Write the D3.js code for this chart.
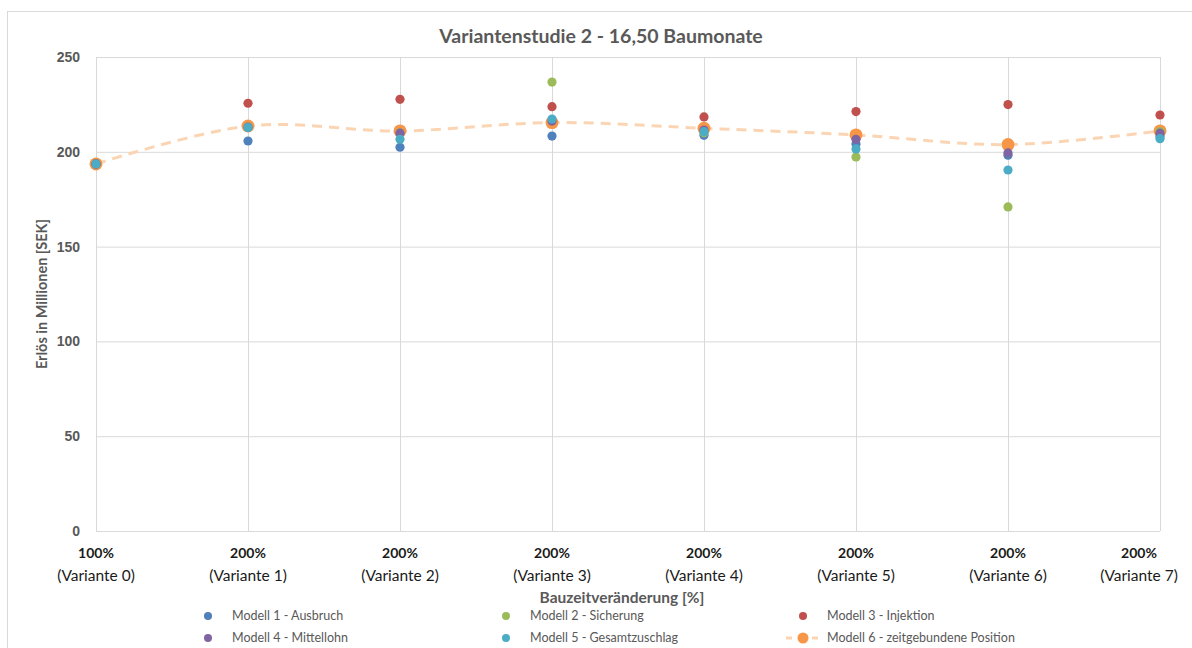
<!DOCTYPE html>
<html>
<head>
<meta charset="utf-8">
<script src="https://cdn.jsdelivr.net/npm/d3@7"></script>
<style>
  html, body { margin: 0; padding: 0; background: #fff; }
  svg { display: block; font-family: Lato, "Open Sans", sans-serif; }
</style>
</head>
<body>
<svg id="chart" width="1192" height="648"></svg>
<script>
// Categories: construction-time change per variant
const tickPercent = ["100%", "200%", "200%", "200%", "200%", "200%", "200%", "200%"];
const tickVariant = ["(Variante 0)", "(Variante 1)", "(Variante 2)", "(Variante 3)",
                     "(Variante 4)", "(Variante 5)", "(Variante 6)", "(Variante 7)"];
const yTicks = [0, 50, 100, 150, 200, 250];

// Revenue in million SEK per model and variant
const modell1 = [193.6, 205.7, 202.4, 208.3, 208.7, 204.1, 198.2, 208.0];
const modell2 = [193.6, 213.0, 210.0, 236.8, 210.0, 197.3, 170.9, 210.7];
const modell3 = [193.6, 225.6, 227.7, 223.8, 218.4, 221.2, 224.9, 219.4];
const modell4 = [193.6, 213.0, 209.8, 216.2, 211.5, 206.6, 199.4, 209.8];
const modell5 = [193.6, 212.8, 206.6, 217.3, 210.6, 201.5, 190.4, 206.9];
const modell6 = [193.6, 213.6, 211.0, 215.4, 212.4, 208.9, 203.8, 211.0];

const names = ["Modell 1 - Ausbruch", "Modell 2 - Sicherung", "Modell 3 - Injektion",
               "Modell 4 - Mittellohn", "Modell 5 - Gesamtzuschlag", "Modell 6 - zeitgebundene Position"];

const svg = d3.select("#chart");
const W = 1192, H = 648;
const plot = { left: 96, right: 1160, top: 57, bottom: 531 };

const x = d3.scalePoint().domain(d3.range(tickVariant.length)).range([plot.left, plot.right]).padding(0);
const y = d3.scaleLinear().domain([0, 250]).range([plot.bottom, plot.top]);

// Outer chart frame
svg.append("rect")
  .attr("x", 7.5).attr("y", 11.5).attr("width", W).attr("height", H)
  .attr("fill", "#fff").attr("stroke", "#d9d9d9");

// Horizontal gridlines and y tick labels
const yAxis = d3.axisLeft(y).tickValues(yTicks).tickSize(-(plot.right - plot.left)).tickPadding(16);
const gy = svg.append("g").attr("transform", `translate(${plot.left},0)`).call(yAxis);
gy.select(".domain").remove();
gy.selectAll(".tick line").attr("stroke", "#d9d9d9").attr("stroke-width", 1);
gy.selectAll(".tick text")
  .attr("fill", "#595959").attr("font-size", 14).attr("font-weight", "bold");

// Vertical gridlines
const xAxis = d3.axisBottom(x).tickSize(-(plot.bottom - plot.top)).tickFormat(() => "");
const gx = svg.append("g").attr("transform", `translate(0,${plot.bottom})`).call(xAxis);
gx.select(".domain").remove();
gx.selectAll(".tick line").attr("stroke", "#d9d9d9").attr("stroke-width", 1);

svg.append("line")
  .attr("x1", plot.left).attr("x2", plot.right)
  .attr("y1", plot.bottom + 0.5).attr("y2", plot.bottom + 0.5)
  .attr("stroke", "#d9d9d9");

// Two-line category labels; the last one is pulled inward to stay inside the frame
const labelX = i => Math.min(x(i), W - 53);
const labels = svg.append("g").attr("text-anchor", "middle").attr("fill", "#1a1a1a");
labels.selectAll("text.pct").data(tickPercent).join("text")
  .attr("class", "pct")
  .attr("x", (d, i) => labelX(i)).attr("y", 558)
  .attr("font-size", 14).attr("font-weight", "bold").text(d => d);
labels.selectAll("text.var").data(tickVariant).join("text")
  .attr("class", "var")
  .attr("x", (d, i) => labelX(i)).attr("y", 581)
  .attr("font-size", 15.5).text(d => d);

// Titles
svg.append("text")
  .attr("x", 601).attr("y", 43).attr("text-anchor", "middle")
  .attr("fill", "#595959").attr("font-size", 19.5).attr("font-weight", "bold")
  .text("Variantenstudie 2 - 16,50 Baumonate");
svg.append("text")
  .attr("transform", "translate(47,294) rotate(-90)").attr("text-anchor", "middle")
  .attr("fill", "#595959").attr("font-size", 14.5).attr("font-weight", "bold")
  .text("Erlös in Millionen [SEK]");
svg.append("text")
  .attr("x", 622).attr("y", 603).attr("text-anchor", "middle")
  .attr("fill", "#595959").attr("font-size", 15.5).attr("font-weight", "bold")
  .text("Bauzeitveränderung [%]");

// Model 6 dashed smoothed line with its markers
const line = d3.line().x((d, i) => x(i)).y(d => y(d)).curve(d3.curveCatmullRom.alpha(0));
svg.append("path").datum(modell6)
  .attr("d", line).attr("fill", "none")
  .attr("stroke", "#fbd5b3").attr("stroke-width", 3).attr("stroke-dasharray", "10,7");
svg.append("g").selectAll("circle").data(modell6).join("circle")
  .attr("cx", (d, i) => x(i)).attr("cy", d => y(d)).attr("r", 6.5).attr("fill", "#f79646");

// Scatter series
const scatter = [
  { values: modell1, color: "#4f81bd" },
  { values: modell2, color: "#9bbb59" },
  { values: modell3, color: "#c0504d" },
  { values: modell4, color: "#8064a2" },
  { values: modell5, color: "#4bacc6" }
];
scatter.forEach(s => {
  svg.append("g").selectAll("circle").data(s.values).join("circle")
    .attr("cx", (d, i) => x(i)).attr("cy", d => y(d)).attr("r", 4.6).attr("fill", s.color);
});

// Legend
const legendItems = [
  { name: names[0], color: "#4f81bd", col: 0, row: 0 },
  { name: names[1], color: "#9bbb59", col: 1, row: 0 },
  { name: names[2], color: "#c0504d", col: 2, row: 0 },
  { name: names[3], color: "#8064a2", col: 0, row: 1 },
  { name: names[4], color: "#4bacc6", col: 1, row: 1 },
  { name: names[5], color: "#f79646", col: 2, row: 1, line: true }
];
const colX = [208, 506, 803], rowY = [616, 638];
const lg = svg.append("g");
legendItems.forEach(it => {
  const cx = colX[it.col], cy = rowY[it.row];
  if (it.line) {
    lg.append("line").attr("x1", cx - 18).attr("x2", cx + 18).attr("y1", cy).attr("y2", cy)
      .attr("stroke", "#fbd5b3").attr("stroke-width", 3).attr("stroke-dasharray", "6,7").attr("stroke-dashoffset", -1);
    lg.append("circle").attr("cx", cx).attr("cy", cy).attr("r", 5.5).attr("fill", it.color);
  } else {
    lg.append("circle").attr("cx", cx).attr("cy", cy).attr("r", 4).attr("fill", it.color);
  }
  lg.append("text").attr("x", cx + 24).attr("y", cy + 4)
    .attr("fill", "#595959").attr("font-size", 12.5).text(it.name);
});
</script>
</body>
</html>
